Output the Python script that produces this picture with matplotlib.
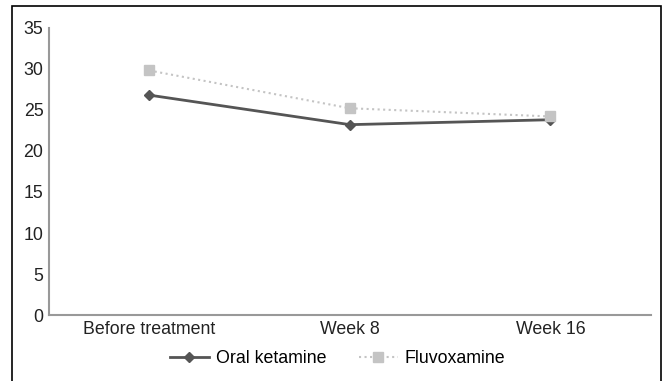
import numpy as np
import matplotlib.pyplot as plt
from matplotlib.patches import Rectangle

plt.rcParams['font.family'] = ['Liberation Sans', 'DejaVu Sans']

# data
timepoints = ['Before treatment', 'Week 8', 'Week 16']
ketamine = [26.8, 23.2, 23.8]
fluvoxamine = [29.8, 25.2, 24.2]

fig = plt.figure(figsize=(6.62, 3.81), dpi=100)
ax = fig.add_axes([0.074, 0.173, 0.909, 0.754])

x = np.arange(len(timepoints))
ax.plot(x, ketamine, color='#555555', lw=2, marker='D', ms=5, label='Oral ketamine')
ax.plot(x, fluvoxamine, color='#c4c4c4', lw=1.5, ls=':', marker='s', ms=7, label='Fluvoxamine')

ax.set_xlim(-0.5, 2.5)
ax.set_ylim(0, 35)
ax.set_yticks(range(0, 36, 5))
ax.set_xticks(x)
ax.set_xticklabels(timepoints)
ax.tick_params(length=0, labelsize=12.8, colors='#222222', pad=4)
for s in ['top', 'right']:
    ax.spines[s].set_visible(False)
for s in ['left', 'bottom']:
    ax.spines[s].set_color('#999999')
    ax.spines[s].set_linewidth(1.5)

fig.legend(loc='center', bbox_to_anchor=(0.51, 0.058), ncol=2, frameon=False,
           fontsize=12.8, handlelength=2.2, handletextpad=0.4, columnspacing=1.8)

# outer frame
fig.patches.append(Rectangle((0.018, -0.1), 0.98, 1.084, transform=fig.transFigure,
                             fill=False, edgecolor='black', lw=1.2))

fig.savefig('out.png', dpi=100)
